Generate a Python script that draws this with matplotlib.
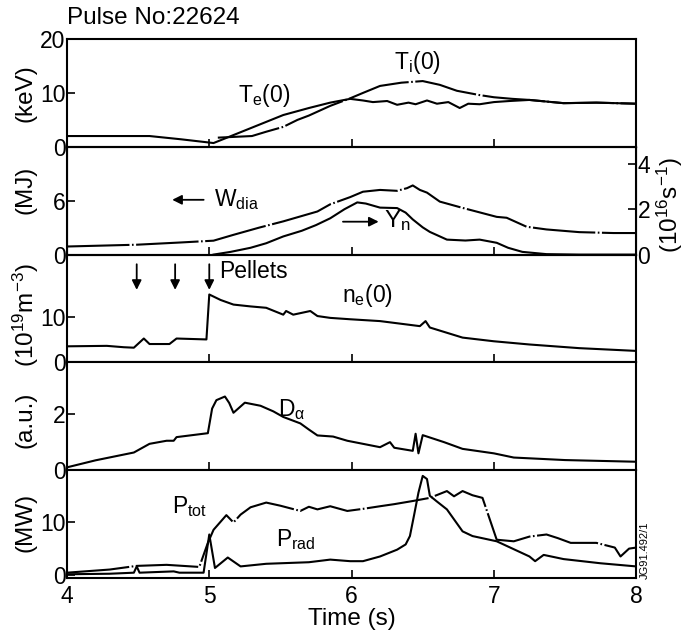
import matplotlib
matplotlib.use('Agg')
import matplotlib.pyplot as plt

plt.rcParams['font.family'] = ['Liberation Sans', 'DejaVu Sans']
plt.rcParams['mathtext.default'] = 'regular'

# central electron / ion temperature (keV)
te_t = [4.0, 4.3, 4.58, 4.8, 5.03, 5.2, 5.52, 5.7, 5.85, 5.99, 6.08, 6.15, 6.25, 6.32, 6.4,
        6.45, 6.53, 6.6, 6.68, 6.76, 6.82, 6.9, 7.0, 7.11, 7.25, 7.49, 7.72, 8.0]
te = [2.0, 2.0, 2.0, 1.4, 0.7, 2.5, 5.9, 7.2, 8.2, 8.9, 8.6, 8.3, 8.5, 7.8, 8.2,
      7.9, 8.6, 8.0, 8.3, 7.2, 8.0, 7.9, 8.3, 8.5, 8.7, 8.1, 8.2, 8.0]
ti_t = [5.06, 5.3, 5.4, 5.52, 5.62, 5.7, 5.85, 5.99, 6.08, 6.2, 6.35, 6.5, 6.62, 6.74,
        6.9, 7.0, 7.13, 7.25, 7.49, 7.72, 8.0]
ti = [1.7, 2.0, 2.8, 3.7, 5.0, 5.8, 7.6, 9.0, 10.0, 11.3, 11.9, 12.2, 11.5, 10.4,
      9.6, 9.2, 8.9, 8.7, 8.1, 8.2, 8.0]

# diamagnetic energy (MJ) and neutron yield (1e16 /s)
w_t = [4.0, 4.49, 4.8, 5.03, 5.17, 5.35, 5.52, 5.76, 5.85, 5.99, 6.08, 6.2, 6.32, 6.39,
       6.43, 6.48, 6.53, 6.62, 6.78, 6.9, 7.02, 7.09, 7.16, 7.23, 7.37, 7.6, 7.84, 8.0]
wdia = [0.9, 1.1, 1.35, 1.55, 2.2, 3.0, 3.7, 4.8, 5.6, 6.4, 7.0, 7.2, 7.1, 7.4,
        7.7, 7.2, 6.9, 5.9, 5.2, 4.7, 4.2, 4.1, 3.6, 3.1, 2.8, 2.5, 2.4, 2.4]
yn_t = [5.03, 5.15, 5.29, 5.4, 5.52, 5.65, 5.75, 5.85, 5.95, 6.04, 6.1, 6.2, 6.32, 6.38,
        6.43, 6.5, 6.55, 6.67, 6.8, 6.9, 7.02, 7.1, 7.2, 7.37, 7.6, 8.0]
yn = [0.0, 0.12, 0.3, 0.5, 0.8, 1.05, 1.3, 1.6, 2.0, 2.3, 2.25, 2.07, 2.05, 1.85,
      1.55, 1.2, 1.0, 0.66, 0.62, 0.66, 0.52, 0.3, 0.12, 0.02, 0.0, 0.0]

# central density (1e19 m^-3)
ne_t = [4.0, 4.28, 4.4, 4.47, 4.54, 4.58, 4.72, 4.77, 4.98, 5.0, 5.08, 5.17, 5.29, 5.4,
        5.52, 5.54, 5.59, 5.71, 5.76, 5.85, 5.99, 6.2, 6.48, 6.52, 6.55, 6.78, 7.0, 7.25,
        7.6, 8.0]
ne = [3.5, 3.6, 3.3, 3.2, 5.2, 4.0, 4.0, 5.2, 5.0, 14.8, 13.6, 12.6, 12.2, 11.9,
      10.4, 11.2, 10.4, 11.2, 10.1, 9.7, 9.4, 9.0, 7.9, 9.0, 7.6, 5.4, 4.6, 3.9,
      3.1, 2.5]
pellet_t = [4.49, 4.76, 5.0]

# D-alpha (a.u.)
da_t = [4.0, 4.2, 4.47, 4.58, 4.7, 4.75, 4.77, 4.99, 5.02, 5.05, 5.11, 5.14, 5.17, 5.25,
        5.36, 5.45, 5.52, 5.64, 5.7, 5.76, 5.87, 5.97, 6.08, 6.2, 6.27, 6.3, 6.43, 6.45,
        6.47, 6.5, 6.53, 6.65, 6.78, 7.0, 7.14, 7.5, 8.0]
da = [0.1, 0.35, 0.63, 0.94, 1.05, 1.05, 1.18, 1.32, 2.2, 2.5, 2.63, 2.4, 2.05, 2.41,
      2.3, 2.1, 1.9, 1.67, 1.45, 1.24, 1.2, 1.05, 0.94, 0.82, 1.0, 0.8, 0.69, 1.3,
      0.6, 1.25, 1.2, 1.0, 0.76, 0.6, 0.45, 0.36, 0.3]

# total input and radiated power (MW)
ptot_t = [4.0, 4.3, 4.49, 4.7, 4.93, 4.99, 5.03, 5.12, 5.17, 5.22, 5.29, 5.4, 5.5, 5.64,
          5.7, 5.76, 5.85, 5.97, 6.08, 6.2, 6.3, 6.43, 6.55, 6.67, 6.72, 6.78, 6.85,
          6.92, 7.02, 7.14, 7.25, 7.37, 7.45, 7.54, 7.72, 7.85, 7.89, 7.95, 8.0]
ptot = [0.4, 1.0, 1.7, 1.9, 1.5, 6.1, 8.6, 11.4, 10.0, 11.5, 12.9, 13.8, 13.2, 12.2,
        13.0, 12.5, 13.1, 12.2, 12.6, 13.1, 13.5, 14.1, 14.7, 16.0, 15.0, 16.0, 15.2,
        14.7, 6.7, 6.4, 7.3, 7.7, 7.0, 6.1, 6.1, 5.2, 3.5, 5.0, 5.2]
prad_t = [4.0, 4.3, 4.47, 4.49, 4.51, 4.75, 4.79, 4.96, 5.0, 5.04, 5.13, 5.22, 5.4, 5.7,
          5.85, 5.99, 6.08, 6.2, 6.32, 6.38, 6.41, 6.44, 6.47, 6.5, 6.53, 6.55, 6.6,
          6.67, 6.78, 6.85, 7.02, 7.25, 7.29, 7.35, 7.49, 7.75, 8.0]
prad = [0.1, 0.2, 0.4, 1.6, 0.4, 0.65, 0.4, 0.4, 7.7, 1.3, 3.3, 1.6, 2.1, 2.4,
        2.9, 2.6, 2.6, 3.5, 4.8, 5.8, 7.4, 11.5, 15.7, 18.9, 18.3, 15.1, 14.0,
        12.5, 8.3, 7.4, 6.4, 3.5, 2.6, 3.8, 3.0, 2.2, 1.6]

x_ticks = [4, 5, 6, 7, 8]

lw = 1.5
chain = (0, (30, 1.2, 0.8, 1.2))
fs = 16.5
lab_fs = 17.5

fig, axes = plt.subplots(5, 1, figsize=(6.87, 6.40), dpi=100, sharex=True,
                         gridspec_kw={'hspace': 0})
fig.subplots_adjust(left=0.0975, right=0.926, top=0.939, bottom=0.097)
ax1, ax2, ax3, ax4, ax5 = axes

for ax in axes:
    ax.set_xlim(4, 8)
    ax.tick_params(direction='in', length=6, width=1.2, labelsize=fs, pad=1)
    for s in ax.spines.values():
        s.set_linewidth(1.5)

# temperatures
ax1.plot(te_t, te, color='black', lw=lw)
ax1.plot(ti_t, ti, color='black', lw=lw, linestyle=chain)
ax1.set_ylim(0, 20)
ax1.set_yticks([0, 10, 20])
ax1.text(5.2, 9.6, 'T$_e$(0)', fontsize=fs, va='center')
ax1.text(6.3, 15.6, 'T$_i$(0)', fontsize=fs, va='center')

# stored energy and neutrons
ax2.plot(w_t, wdia, color='black', lw=lw, linestyle=chain)
ax2.set_ylim(0, 12)
ax2.set_yticks([0, 6])
ax2r = ax2.twinx()
ax2r.plot(yn_t, yn, color='black', lw=lw)
ax2r.set_ylim(0, 4.75)
ax2r.set_yticks([0, 2, 4])
ax2r.tick_params(direction='in', length=6, width=1.2, labelsize=fs, pad=1)
ax2.annotate('', xy=(4.72, 6.1), xytext=(4.98, 6.1),
             arrowprops=dict(arrowstyle='-|>', color='black', lw=1.3, mutation_scale=14))
ax2.text(5.03, 6.1, 'W$_{dia}$', fontsize=fs, va='center')
ax2r.annotate('', xy=(6.21, 1.45), xytext=(5.92, 1.45),
              arrowprops=dict(arrowstyle='-|>', color='black', lw=1.3, mutation_scale=14))
ax2r.text(6.23, 1.5, 'Y$_n$', fontsize=fs + 1, va='center')

# density with pellet times
ax3.plot(ne_t, ne, color='black', lw=lw)
ax3.set_ylim(0, 23.5)
ax3.set_yticks([0, 10])
for pt in pellet_t:
    ax3.annotate('', xy=(pt, 15.2), xytext=(pt, 22.0),
                 arrowprops=dict(arrowstyle='-|>', color='black', lw=1.3, mutation_scale=14))
ax3.text(5.07, 19.8, 'Pellets', fontsize=fs, va='center')
ax3.text(5.93, 14.6, 'n$_e$(0)', fontsize=fs, va='center')

# D-alpha
ax4.plot(da_t, da, color='black', lw=lw)
ax4.set_ylim(0, 3.85)
ax4.set_yticks([0, 2])
ax4.text(5.48, 2.15, 'D$_α$', fontsize=fs, va='center')

# powers
ax5.plot(ptot_t, ptot, color='black', lw=lw, linestyle=chain)
ax5.plot(prad_t, prad, color='black', lw=lw)
ax5.set_ylim(-0.6, 20)
ax5.set_yticks([0, 10])
ax5.set_xticks(x_ticks)
ax5.tick_params(axis='x', pad=5)
ax5.text(4.74, 13.0, 'P$_{tot}$', fontsize=fs, va='center')
ax5.text(5.47, 6.8, 'P$_{rad}$', fontsize=fs, va='center')
ax5.set_xlabel('Time (s)', fontsize=lab_fs, labelpad=0)

fig.text(0.0975, 0.972, 'Pulse No:22624', fontsize=lab_fs, va='center', ha='left')
fig.text(0.037, 0.855, '(keV)', fontsize=lab_fs, rotation=90, va='center', ha='center')
fig.text(0.037, 0.703, '(MJ)', fontsize=lab_fs, rotation=90, va='center', ha='center')
fig.text(0.037, 0.508, '(10$^{19}$m$^{-3}$)', fontsize=lab_fs, rotation=90, va='center', ha='center')
fig.text(0.037, 0.344, '(a.u.)', fontsize=lab_fs, rotation=90, va='center', ha='center')
fig.text(0.037, 0.184, '(MW)', fontsize=lab_fs, rotation=90, va='center', ha='center')
fig.text(0.975, 0.68, '(10$^{16}$s$^{-1}$)', fontsize=lab_fs, rotation=90, va='center', ha='center')
fig.text(0.939, 0.14, 'JG91.492/1', fontsize=8, rotation=90, va='center', ha='center')

fig.savefig('out.png', dpi=100)
